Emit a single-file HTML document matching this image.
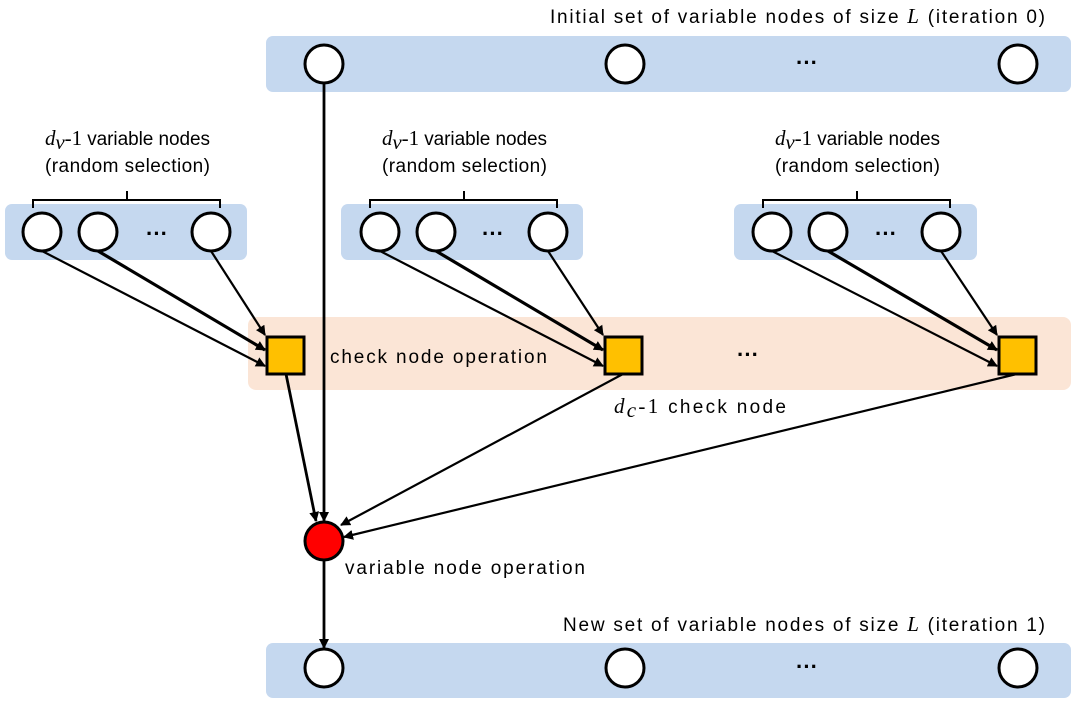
<!DOCTYPE html>
<html><head><meta charset="utf-8"><style>
body{margin:0;background:#fff}
text{font-family:"Liberation Sans",sans-serif;font-size:19px;fill:#000}
.m{font-family:"Liberation Serif",serif;font-style:italic;font-size:21px}
.d{font-size:22px;font-weight:bold}
</style></head><body>
<svg width="1082" height="708" viewBox="0 0 1082 708" xmlns="http://www.w3.org/2000/svg">
<defs><marker id="a" markerWidth="10" markerHeight="10" refX="9" refY="5" orient="auto" markerUnits="userSpaceOnUse"><path d="M0,0 L10,5 L0,10 z" fill="#000"/></marker></defs>
<rect x="266" y="36" width="805" height="56" rx="7" fill="#c5d8ef"/>
<rect x="266" y="643" width="805" height="55" rx="7" fill="#c5d8ef"/>
<rect x="5" y="204" width="242" height="56" rx="7" fill="#c5d8ef"/>
<rect x="341" y="204" width="242" height="56" rx="7" fill="#c5d8ef"/>
<rect x="734" y="204" width="243" height="56" rx="7" fill="#c5d8ef"/>
<rect x="248" y="317" width="823" height="73" rx="8" fill="#fbe5d6"/>
<g stroke="#000" stroke-width="3" fill="#fff">
<circle cx="324" cy="64" r="19"/><circle cx="625" cy="64" r="19"/><circle cx="1018" cy="64" r="19"/>
<circle cx="324" cy="668" r="19"/><circle cx="625" cy="668" r="19"/><circle cx="1018" cy="668" r="19"/>
<circle cx="42" cy="232" r="19"/><circle cx="98" cy="232" r="19"/><circle cx="211" cy="232" r="19"/>
<circle cx="380" cy="232" r="19"/><circle cx="436" cy="232" r="19"/><circle cx="548" cy="232" r="19"/>
<circle cx="772" cy="232" r="19"/><circle cx="828" cy="232" r="19"/><circle cx="941" cy="232" r="19"/>
<circle cx="324" cy="541" r="19" fill="#f00"/>
<rect x="267" y="337" width="37" height="37" fill="#ffc000"/>
<rect x="605" y="337" width="37" height="37" fill="#ffc000"/>
<rect x="999" y="337" width="37" height="37" fill="#ffc000"/>
</g>
<g stroke="#000" stroke-width="2" fill="none">
<path d="M33,208 V200 H220 V208 M127,200 V191"/>
<path d="M370,208 V200 H557 V208 M464,200 V191"/>
<path d="M763,208 V200 H950 V208 M857,200 V191"/>
</g>
<g stroke="#000" stroke-width="2.2" marker-end="url(#a)">
<line x1="42" y1="251" x2="265" y2="366"/><line x1="98" y1="251" x2="265" y2="350" stroke-width="3.2"/><line x1="211" y1="251" x2="265" y2="335"/>
<line x1="380" y1="251" x2="603" y2="366"/><line x1="436" y1="251" x2="603" y2="350" stroke-width="3.2"/><line x1="548" y1="251" x2="603" y2="335"/>
<line x1="772" y1="251" x2="997" y2="366"/><line x1="828" y1="251" x2="997" y2="350" stroke-width="3.2"/><line x1="941" y1="251" x2="997" y2="335"/>
<line x1="324" y1="83" x2="324" y2="521" stroke-width="2.8"/>
<line x1="286" y1="374" x2="316" y2="521" stroke-width="2.8"/>
<line x1="623" y1="374" x2="341" y2="525"/>
<line x1="1017" y1="374" x2="344" y2="537"/>
<line x1="324" y1="560" x2="324" y2="648" stroke-width="2.8"/>
</g>
<text x="550" y="23" textLength="495" lengthAdjust="spacing">Initial set of variable nodes of size <tspan class="m">L</tspan> (iteration 0)</text>
<text x="563" y="631" textLength="482" lengthAdjust="spacing">New set of variable nodes of size <tspan class="m">L</tspan> (iteration 1)</text>
<text x="45" y="145" textLength="165" lengthAdjust="spacing"><tspan class="m">d</tspan><tspan class="m" font-size="13" dy="4">v</tspan><tspan dy="-4" font-family="Liberation Serif" font-size="21">-1</tspan> variable nodes</text>
<text x="45" y="172" textLength="165" lengthAdjust="spacing">(random selection)</text>
<text x="382" y="145" textLength="165" lengthAdjust="spacing"><tspan class="m">d</tspan><tspan class="m" font-size="13" dy="4">v</tspan><tspan dy="-4" font-family="Liberation Serif" font-size="21">-1</tspan> variable nodes</text>
<text x="382" y="172" textLength="165" lengthAdjust="spacing">(random selection)</text>
<text x="775" y="145" textLength="165" lengthAdjust="spacing"><tspan class="m">d</tspan><tspan class="m" font-size="13" dy="4">v</tspan><tspan dy="-4" font-family="Liberation Serif" font-size="21">-1</tspan> variable nodes</text>
<text x="775" y="172" textLength="165" lengthAdjust="spacing">(random selection)</text>
<text x="330" y="363" textLength="217" lengthAdjust="spacing">check node operation</text>
<text x="614" y="413" textLength="172" lengthAdjust="spacing"><tspan class="m">d</tspan><tspan class="m" font-size="13" dy="4">c</tspan><tspan dy="-4" font-family="Liberation Serif" font-size="21">-1</tspan> check node</text>
<text x="345" y="574" textLength="240" lengthAdjust="spacing">variable node operation</text>
<text class="d" x="796" y="70">···</text><text class="d" x="796" y="674">···</text><text class="d" x="737" y="362">···</text>
<text class="d" x="146" y="241">···</text><text class="d" x="482" y="241">···</text><text class="d" x="875" y="241">···</text>
</svg>
</body></html>
